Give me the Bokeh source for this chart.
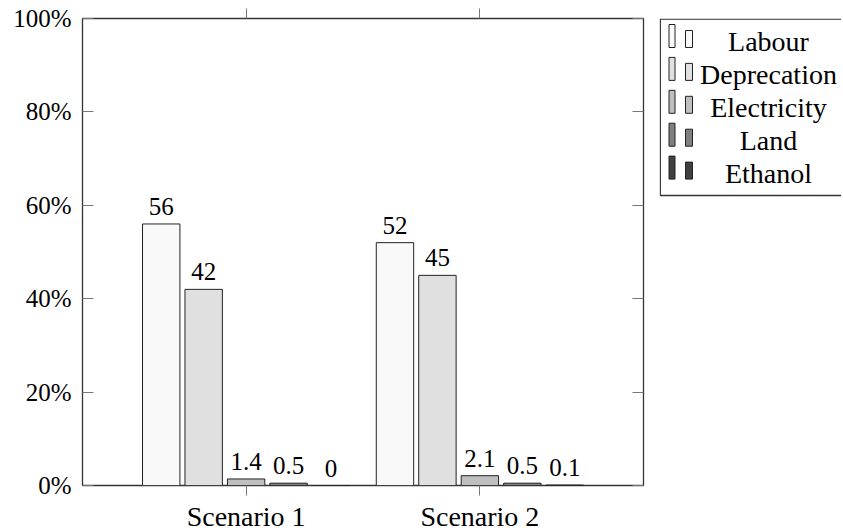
from bokeh.plotting import figure
from bokeh.models import Range1d, LinearAxis, FixedTicker, ColumnDataSource, LabelSet
from bokeh.layouts import row
from bokeh.core.properties import value
from bokeh.embed import file_html
from bokeh.resources import INLINE

# ---- data ----
categories = ["Labour", "Deprecation", "Electricity", "Land", "Ethanol"]
scenarios = ["Scenario 1", "Scenario 2"]
scenario_pos = [1, 2]
scenario1 = [56, 42, 1.4, 0.5, 0]
scenario2 = [52, 45, 2.1, 0.5, 0.1]
y_ticks = [0, 20, 40, 60, 80, 100]
y_tick_labels = ["0%", "20%", "40%", "60%", "80%", "100%"]

# ---- styles ----
colors = ["#f9f9f9", "#e0e0e0", "#bfbfbf", "#808080", "#404040"]
FONT = "Liberation Serif"
NUM_SIZE = "25px"
WORD_SIZE = "28px"
bar_step = 0.1816
bar_width = 0.16

TOP, BOTTOM = 18, 48
FRAME_W, FRAME_H = 561, 467

p = figure(frame_width=FRAME_W, frame_height=FRAME_H, output_backend="svg", toolbar_location=None,
           x_range=Range1d(0.3, 2.7), y_range=Range1d(0, 100),
           min_border_left=82, min_border_right=16, min_border_top=TOP, min_border_bottom=BOTTOM)
p.xgrid.visible = False
p.ygrid.visible = False
p.outline_line_color = "#333333"
p.outline_line_width = 1.3
p.background_fill_color = "white"
p.border_fill_color = "white"

for i, cat in enumerate(categories):
    xs = [sp + (i - 2) * bar_step for sp in scenario_pos]
    tops = [scenario1[i], scenario2[i]]
    labels = [f"{v:g}" for v in tops]
    src = ColumnDataSource(dict(x=xs, top=tops, label=labels))
    p.vbar(x="x", top="top", bottom=0, width=bar_width, source=src,
           fill_color=colors[i], line_color="#222222", line_width=1)
    p.add_layout(LabelSet(x="x", y="top", text="label", source=src, y_offset=9,
                          text_align="center", text_baseline="bottom",
                          text_font=value(FONT), text_font_size=NUM_SIZE,
                          text_color="black"))

# bottom axis
xa = p.xaxis[0]
xa.ticker = FixedTicker(ticks=scenario_pos)
xa.major_label_overrides = {sp: s for sp, s in zip(scenario_pos, scenarios)}
xa.major_label_text_font = FONT
xa.major_label_text_font_size = WORD_SIZE
xa.major_label_text_color = "black"
xa.major_tick_out = 10
xa.major_tick_in = 0
xa.minor_tick_line_color = None
xa.major_tick_line_color = "#777777"
xa.axis_line_color = None
xa.major_label_standoff = 5

# left axis
ya = p.yaxis[0]
ya.ticker = FixedTicker(ticks=y_ticks)
ya.major_label_overrides = {t: l for t, l in zip(y_ticks, y_tick_labels)}
ya.major_label_text_font = FONT
ya.major_label_text_font_size = NUM_SIZE
ya.major_label_text_color = "black"
ya.major_tick_out = 0
ya.major_tick_in = 11
ya.minor_tick_line_color = None
ya.major_tick_line_color = "#777777"
ya.axis_line_color = None
ya.major_label_standoff = 11

# right axis (ticks only)
ra = LinearAxis(ticker=FixedTicker(ticks=y_ticks), major_tick_in=11, major_tick_out=0,
                major_label_text_font_size="0px", major_label_standoff=0,
                axis_line_color=None, minor_tick_line_color=None,
                major_tick_line_color="#777777",
                major_label_overrides={t: "" for t in y_ticks})
p.add_layout(ra, "right")

# top axis (ticks only)
ta = LinearAxis(ticker=FixedTicker(ticks=scenario_pos), major_tick_in=0, major_tick_out=10,
                major_label_text_font_size="0px", major_label_standoff=0,
                axis_line_color=None, minor_tick_line_color=None,
                major_tick_line_color="#777777",
                major_label_overrides={sp: "" for sp in scenario_pos})
p.add_layout(ta, "above")

# ---- legend panel (coordinates in page pixels) ----
LX0, LX1 = 661, 843
lg = figure(frame_width=LX1 - LX0, frame_height=FRAME_H, output_backend="svg", toolbar_location=None,
            x_axis_location=None, y_axis_location=None,
            x_range=Range1d(LX0, LX1), y_range=Range1d(486, 19),
            min_border_left=0, min_border_right=0, min_border_top=TOP, min_border_bottom=BOTTOM)
lg.xgrid.visible = False
lg.ygrid.visible = False
lg.outline_line_color = None
lg.background_fill_color = "white"
lg.border_fill_color = "white"

box_top, box_bottom, box_left = 19.6, 196, 661.8
lg.multi_line(xs=[[LX1 + 5, box_left, box_left, LX1 + 5]], ys=[[box_top, box_top, box_bottom, box_bottom]],
              line_color="#333333", line_width=1.3)

row_step = 32.9
for i, cat in enumerate(categories):
    base = 48 + row_step * i
    lg.quad(left=[670.5, 687], right=[676.5, 694], top=[base - 23, base - 17], bottom=[base, base],
            fill_color=colors[i], line_color="#222222", line_width=1)
    lg.text(x=[770], y=[base - 6], text=[cat], text_align="center", text_baseline="alphabetic",
            text_font=value(FONT), text_font_size=WORD_SIZE, text_color="black")

layout = row(p, lg)
open("out.html", "w").write(file_html(layout, INLINE))
